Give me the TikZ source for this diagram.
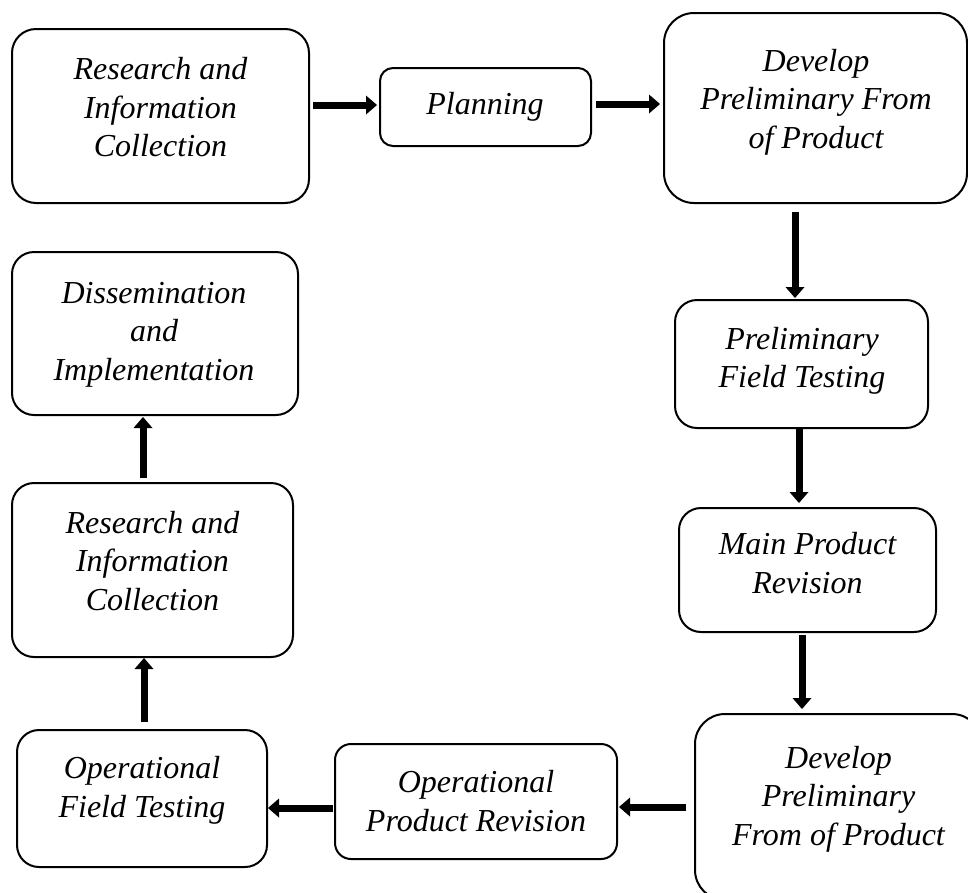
\documentclass[tikz,border=0pt]{standalone}
\usepackage{fontspec}
\setmainfont{Liberation Serif}
\usetikzlibrary{arrows.meta,calc}

\tikzset{
  stage/.style={draw=black, line width=2pt, inner sep=0pt, outer sep=0pt},
  txt/.style={align=center, inner sep=0pt, font=\fontsize{32}{38.5}\selectfont\itshape},
  arr/.style={line width=7pt, -{Triangle[length=11pt,width=19pt,line width=0pt]}},
}

\begin{document}
\begin{tikzpicture}[x=1pt,y=-1pt]
  \useasboundingbox (0,0) rectangle (968,892);
  \clip (0,0) rectangle (968,892);

  % stage boxes
  \node[stage, rounded corners=24pt, minimum width=297pt, minimum height=174pt] (n1)  at (160.5,116) {};
  \node[stage, rounded corners=13pt, minimum width=211pt, minimum height=78pt]  (n2)  at (485.5,107) {};
  \node[stage, rounded corners=30pt, minimum width=303pt, minimum height=190pt] (n3)  at (815.5,108) {};
  \node[stage, rounded corners=22pt, minimum width=253pt, minimum height=128pt] (n4)  at (801.5,364) {};
  \node[stage, rounded corners=22pt, minimum width=257pt, minimum height=124pt] (n5)  at (807.5,570) {};
  \node[stage, rounded corners=30pt, minimum width=287pt, minimum height=186pt] (n6)  at (838.5,807) {};
  \node[stage, rounded corners=16pt, minimum width=282pt, minimum height=115pt] (n7)  at (476,801.5) {};
  \node[stage, rounded corners=22pt, minimum width=250pt, minimum height=137pt] (n8)  at (142,798.5) {};
  \node[stage, rounded corners=22pt, minimum width=281pt, minimum height=174pt] (n9)  at (152.5,570) {};
  \node[stage, rounded corners=22pt, minimum width=286pt, minimum height=163pt] (n10) at (155,333.5) {};

  % stage labels
  \node[txt] (t1)  at ($(n1)+(0,-8.5)$)  {Research and\\Information\\Collection};
  \node[txt] (t2)  at ($(n2)+(-0.5,-0.5)$) {Planning};
  \node[txt] (t3)  at ($(n3)+(0.5,-6)$)  {Develop\\Preliminary From\\of Product};
  \node[txt] (t4)  at ($(n4)+(0.5,-3)$)  {Preliminary\\Field Testing};
  \node[txt] (t5)  at ($(n5)+(0,-7)$)    {Main Product\\Revision};
  \node[txt] (t6)  at ($(n6)+(0,-8)$)    {Develop\\Preliminary\\From of Product};
  \node[txt] (t7)  at ($(n7)+(0,-0.5)$)  {Operational\\Product Revision};
  \node[txt] (t8)  at ($(n8)+(0,-8)$)    {Operational\\Field Testing};
  \node[txt] (t9)  at ($(n9)+(0,-9)$)    {Research and\\Information\\Collection};
  \node[txt] (t10) at ($(n10)+(-1,1)$)   {Dissemination\\and\\Implementation};

  % flow arrows
  \draw[arr] ($(n1.east|-n2.west)+(4,-2)$) -- ($(n2.west)+(-3,-2)$);
  \draw[arr] ($(n2.east)+(5,-3)$) -- ($(n3.west|-n2.east)+(-4,-3)$);
  \draw[arr] ($(n3.south-|n4.north)+(-6.5,9)$) -- ($(n4.north)+(-6.5,-2)$);
  \draw[arr] ($(n4.south)+(-2.5,0)$) -- ($(n4.south|-n5.north)+(-2.5,-5)$);
  \draw[arr] ($(n5.south)+(-5.5,3)$) -- ($(n5.south|-n6.north)+(-5.5,-5)$);
  \draw[arr] ($(n6.west|-n7.east)+(-9,5.5)$) -- ($(n7.east)+(2,5.5)$);
  \draw[arr] ($(n7.west)+(-2,6.5)$) -- ($(n8.east|-n7.west)+(1,6.5)$);
  \draw[arr] ($(n8.north)+(2,-8)$) -- ($(n9.south-|n8.north)+(2,1)$);
  \draw[arr] ($(n9.north)+(-9.5,-5)$) -- ($(n10.south-|n9.north)+(-9.5,2)$);
\end{tikzpicture}
\end{document}
